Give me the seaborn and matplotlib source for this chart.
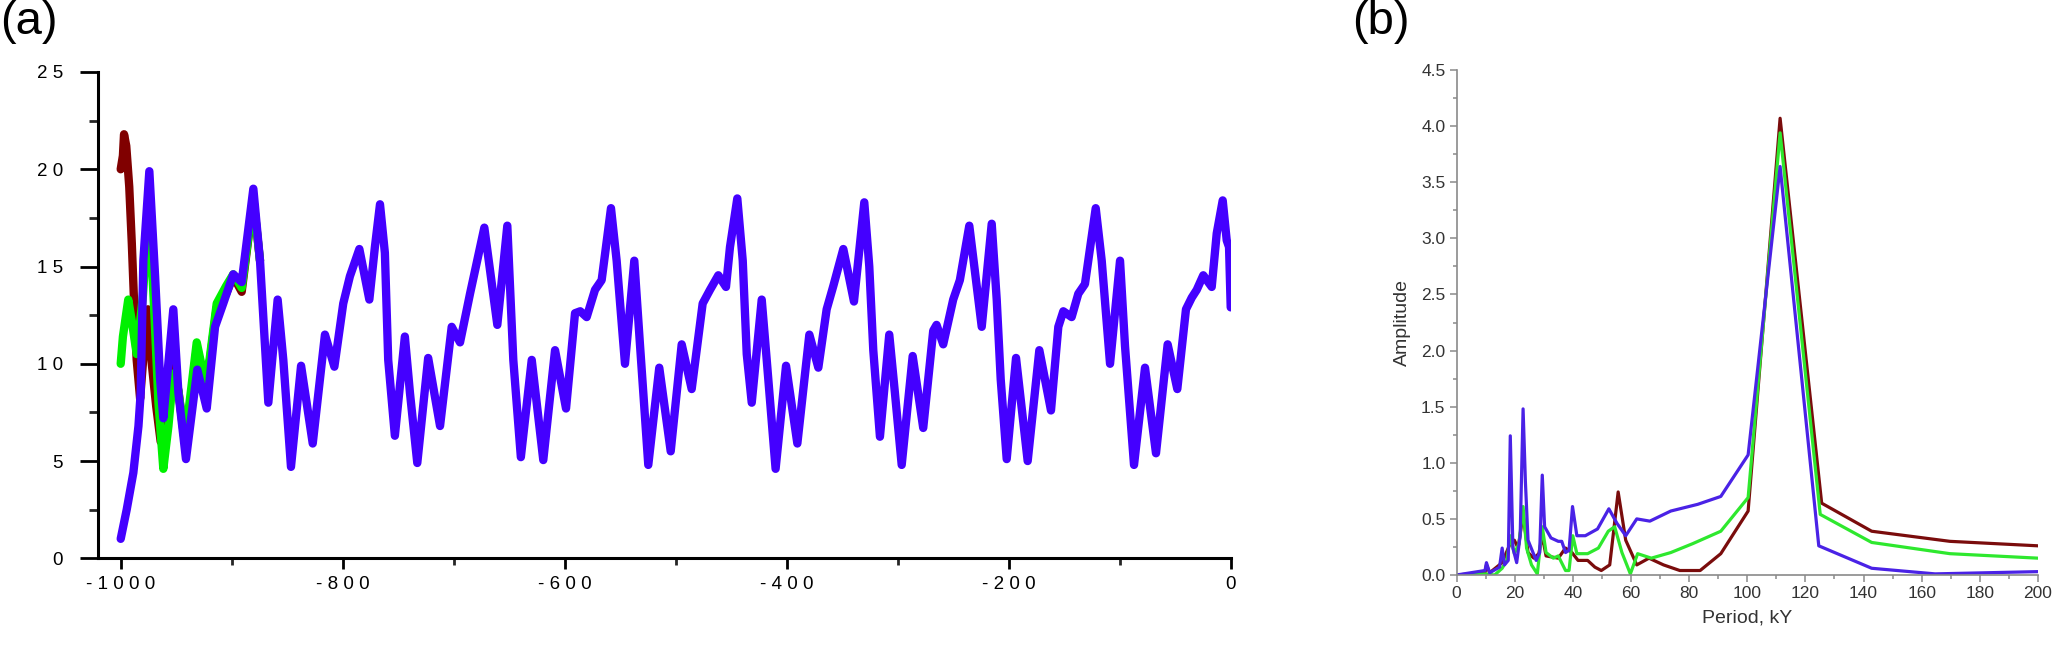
import numpy as np
import pandas as pd
import matplotlib
matplotlib.use("Agg")
import matplotlib.pyplot as plt
import seaborn as sns
from matplotlib.ticker import MultipleLocator, FixedLocator

sns.set_theme(style="white")
plt.rcParams['font.family'] = ['Liberation Sans', 'DejaVu Sans']

# ---------------- Panel (a) data ----------------
blue_t = [-1000, -994.6, -988.6, -984, -982, -979.6, -974.2, -969, -964.6, -961.6,
          -952.6, -948, -941.2, -931, -922.5, -915, -907.6, -898.6, -891, -880.5,
          -874.5, -867, -858.6, -853.5, -846.6, -837.5, -827, -816, -807.5, -799.5,
          -793.5, -785, -776, -771, -766.4, -762, -759, -753, -744, -739.4,
          -732.8, -723, -712.3, -701.8, -694.3, -685.3, -672.4, -660.7, -651.7, -646.3,
          -639.5, -629.7, -619.3, -608.7, -598.8, -590.7, -586, -580.2, -572.7, -566.7,
          -558.3, -553.2, -545.7, -537.3, -532.2, -524.7, -514.8, -504.5, -494.6, -485.6,
          -475.7, -469.1, -461.6, -454.7, -451.1, -444.5, -439.6, -436, -431.5, -422.5,
          -418, -410, -400.6, -390.4, -379.6, -371.5, -364, -358, -349, -339.4,
          -330.1, -325.6, -322, -316, -307.6, -302.5, -296.4, -286.5, -277, -268,
          -265, -259, -250, -244, -235.5, -224.3, -215.3, -210.8, -207.2, -201.8,
          -193.4, -182.9, -172.4, -161.9, -155.3, -150.8, -143.3, -137.3, -131.3, -121.6,
          -116.2, -108.7, -99.7, -95.2, -87.1, -77.2, -67.3, -56.8, -48.1, -40.3,
          -35.1, -30.6, -24.7, -17.1, -12.6, -7.2, -3.6, -1.5, 0]
blue_v = [1.0, 2.5, 4.4, 6.8, 8.5, 15.3, 19.9, 14.5, 9.3, 7.2,
          12.8, 8.5, 5.1, 9.7, 7.7, 11.9, 13.1, 14.6, 14.2, 19.0,
          15.3, 8.0, 13.3, 10.2, 4.7, 9.9, 5.9, 11.5, 9.85, 13.1,
          14.5, 15.9, 13.3, 16.0, 18.2, 15.7, 10.2, 6.3, 11.4, 8.5,
          4.9, 10.3, 6.8, 11.9, 11.1, 13.6, 17.0, 12.0, 17.1, 10.2,
          5.2, 10.2, 5.05, 10.7, 7.7, 12.6, 12.7, 12.4, 13.8, 14.3,
          18.0, 15.3, 10.0, 15.3, 11.0, 4.8, 9.8, 5.5, 11.0, 8.7,
          13.1, 13.8, 14.55, 13.95, 16.0, 18.5, 15.3, 10.5, 8.0, 13.3,
          10.2, 4.6, 9.9, 5.9, 11.5, 9.8, 12.8, 14.0, 15.9, 13.2,
          18.3, 15.0, 10.7, 6.25, 11.5, 8.5, 4.8, 10.4, 6.7, 11.7,
          12.0, 11.0, 13.3, 14.3, 17.1, 11.9, 17.2, 13.3, 9.2, 5.1,
          10.3, 5.0, 10.7, 7.6, 11.9, 12.7, 12.4, 13.6, 14.1, 18.0,
          15.3, 10.0, 15.3, 10.9, 4.8, 9.8, 5.4, 11.0, 8.7, 12.8,
          13.4, 13.8, 14.55, 13.95, 16.7, 18.4, 16.35, 16.0, 12.9]

green_t = [-1000, -998, -993.2, -990, -985.6, -980, -976, -974, -970, -966,
           -961.6, -957, -952.6, -948, -942, -931.5, -924.5, -920, -913.5, -905,
           -898.6, -891, -880.5, -874.5]
green_v = [10.0, 11.4, 13.3, 12.2, 10.5, 13.5, 17.0, 17.5, 13.0, 8.0,
           4.6, 6.8, 9.5, 8.6, 6.1, 11.1, 9.2, 10.2, 13.1, 14.0,
           14.6, 13.9, 18.5, 15.3]

red_t = [-1000, -998, -997, -995, -992.3, -990, -987.7, -985.6, -982.5, -978,
         -975.5, -972, -968, -964, -961, -956, -952, -948, -943, -938,
         -931.5, -924, -920, -913.5, -905, -898.6, -891, -880.5, -874.5]
red_v = [20.0, 20.7, 21.8, 21.2, 19.1, 16.2, 12.8, 10.2, 8.2, 11.5,
         12.8, 10.0, 7.8, 6.0, 6.3, 8.8, 9.8, 8.6, 6.3, 7.6,
         10.8, 8.6, 10.0, 12.9, 13.6, 14.5, 13.7, 18.5, 15.3]

a_xticks = [-1000, -800, -600, -400, -200, 0]
a_xticklabels = ["- 1 0 0 0", "- 8 0 0", "- 6 0 0", "- 4 0 0", "- 2 0 0", "0"]
a_yticks = [0, 5, 10, 15, 20, 25]
a_yticklabels = ["0", "5", "1 0", "1 5", "2 0", "2 5"]

# ---------------- Panel (b) data ----------------
b_blue_x = [0, 9.8, 10.3, 11.4, 14.8, 15.7, 16.5, 17.8, 18.5, 19.4,
            20.7, 21.9, 22.9, 23.7, 24.6, 27.4, 28.6, 29.5, 30.3, 32.5,
            35, 36.2, 37.5, 38.7, 39.9, 41.4, 44.3, 48.5, 52.4, 55.2,
            58.2, 62, 66.5, 73.7, 83, 90.9, 100.3, 111.3, 124.6, 142.8,
            164.6, 200]
b_blue_y = [0, 0.04, 0.11, 0.02, 0.07, 0.24, 0.09, 0.13, 1.24, 0.24,
            0.11, 0.35, 1.48, 0.83, 0.31, 0.13, 0.2, 0.89, 0.43, 0.33,
            0.30, 0.30, 0.2, 0.22, 0.61, 0.35, 0.35, 0.41, 0.59, 0.46,
            0.35, 0.5, 0.48, 0.57, 0.63, 0.70, 1.07, 3.64, 0.26, 0.06,
            0.01, 0.03]

b_green_x = [0, 9.8, 13.1, 15.7, 17.3, 18.5, 19.9, 21.5, 22.9, 24.1,
             25.8, 27.8, 29.5, 30.8, 33.3, 35, 37.5, 38.7, 40, 41.4,
             45.1, 48.8, 52.2, 54.4, 56.9, 59.8, 62.3, 67, 73.7, 81.3,
             90.9, 100.3, 111.3, 125.1, 142.8, 169.7, 200]
b_green_y = [0, 0.01, 0, 0.06, 0.13, 0.35, 0.19, 0.28, 0.61, 0.24,
             0.09, 0.01, 0.43, 0.2, 0.15, 0.17, 0.04, 0.04, 0.35, 0.19,
             0.19, 0.24, 0.39, 0.43, 0.2, 0.01, 0.19, 0.15, 0.2, 0.28,
             0.39, 0.69, 3.94, 0.54, 0.29, 0.19, 0.15]

b_red_x = [0, 9.8, 10.3, 11.4, 15.7, 17.8, 18.5, 19.9, 21.2, 22.9,
           24.6, 26.6, 28.3, 29.5, 30.8, 35, 37.5, 39.7, 41.8, 45.1,
           47.6, 49.8, 52.7, 55.6, 58.2, 62, 66.2, 71.2, 76.8, 83.8,
           90.9, 100.3, 111.3, 125.6, 142.8, 169.7, 200]
b_red_y = [0, 0.02, 0.09, 0.02, 0.11, 0.24, 0.28, 0.31, 0.24, 0.54,
           0.2, 0.15, 0.19, 0.35, 0.17, 0.15, 0.24, 0.2, 0.13, 0.13,
           0.07, 0.04, 0.09, 0.74, 0.31, 0.09, 0.15, 0.09, 0.04, 0.04,
           0.19, 0.57, 4.07, 0.64, 0.39, 0.3, 0.26]

# ---------------- Figure ----------------
W, H = 2067, 647
fig = plt.figure(figsize=(W / 100, H / 100), dpi=100)
fig.patch.set_facecolor("white")

# Panel (a)
ax_l, ax_r, ax_b, ax_t = 97.5, 1230.7, 558.3, 72.0
axa = fig.add_axes([ax_l / W, 1 - ax_b / H, (ax_r - ax_l) / W, (ax_b - ax_t) / H])
lw_a = 6.0
for t, v, c in [(red_t, red_v, "#800000"), (green_t, green_v, "#00f000"), (blue_t, blue_v, "#4400ff")]:
    sns.lineplot(x=np.array(t), y=np.array(v), ax=axa, color=c, linewidth=lw_a,
                 sort=False, estimator=None, solid_capstyle="round", solid_joinstyle="round")
axa.set_xlim(-1000 - (120.7 - ax_l) / 1.11, 0)
axa.set_ylim(0, 25)
axa.set_xticks(a_xticks)
axa.set_xticklabels(a_xticklabels)
axa.set_yticks(a_yticks)
axa.set_yticklabels(a_yticklabels)
axa.xaxis.set_minor_locator(FixedLocator([-900, -700, -500, -300, -100]))
axa.yaxis.set_minor_locator(FixedLocator([2.5, 7.5, 12.5, 17.5, 22.5]))
for s in ["top", "right"]:
    axa.spines[s].set_visible(False)
for s in ["left", "bottom"]:
    axa.spines[s].set_linewidth(2.2)
    axa.spines[s].set_color("black")
axa.tick_params(axis="y", which="major", direction="out", length=12.7, width=2.0,
                pad=12, labelsize=13.5, colors="black", left=True)
axa.tick_params(axis="y", which="minor", direction="out", length=6.5, width=2.0, left=True)
axa.tick_params(axis="x", which="major", direction="out", length=7.9, width=2.0,
                pad=5, labelsize=13.5, colors="black", bottom=True)
axa.tick_params(axis="x", which="minor", direction="out", length=4.8, width=2.0, bottom=True)
axa.set_xlabel("")
axa.set_ylabel("")
axa.set_facecolor("white")

# Panel (b)
bx_l, bx_r, bx_b, bx_t = 1456.5, 2038.0, 575.0, 70.0
axb = fig.add_axes([bx_l / W, 1 - bx_b / H, (bx_r - bx_l) / W, (bx_b - bx_t) / H])
lw_b = 2.3
for x, y, c in [(b_red_x, b_red_y, "#7a0c0c"), (b_green_x, b_green_y, "#2ee82e"), (b_blue_x, b_blue_y, "#4a22e6")]:
    sns.lineplot(x=np.array(x), y=np.array(y), ax=axb, color=c, linewidth=lw_b,
                 sort=False, estimator=None)
axb.set_xlim(0, 200)
axb.set_ylim(0, 4.5)
axb.xaxis.set_major_locator(MultipleLocator(20))
axb.xaxis.set_minor_locator(MultipleLocator(10))
axb.yaxis.set_major_locator(MultipleLocator(0.5))
axb.yaxis.set_minor_locator(MultipleLocator(0.25))
axb.yaxis.set_major_formatter(matplotlib.ticker.FormatStrFormatter("%.1f"))
for s in ["top", "right"]:
    axb.spines[s].set_visible(False)
for s in ["left", "bottom"]:
    axb.spines[s].set_linewidth(1.2)
    axb.spines[s].set_color("#8a8a8a")
axb.tick_params(axis="both", which="major", direction="out", length=5, width=1.1,
                color="#8a8a8a", labelcolor="#333333", labelsize=12.5, pad=3,
                left=True, bottom=True)
axb.tick_params(axis="both", which="minor", direction="out", length=3, width=1.1,
                color="#8a8a8a", left=True, bottom=True)
axb.set_xlabel("Period, kY", fontsize=14, color="#333333", labelpad=6)
axb.set_ylabel("Amplitude", fontsize=14, color="#333333", labelpad=7)
axb.set_facecolor("white")

# Panel labels
fig.text(0.0 / W, 1 - 0 / H, "(a)", fontsize=34, ha="left", va="top", color="black")
fig.text(1352 / W, 1 - 0 / H, "(b)", fontsize=34, ha="left", va="top", color="black")

fig.savefig("out.png", dpi=100, facecolor="white")
